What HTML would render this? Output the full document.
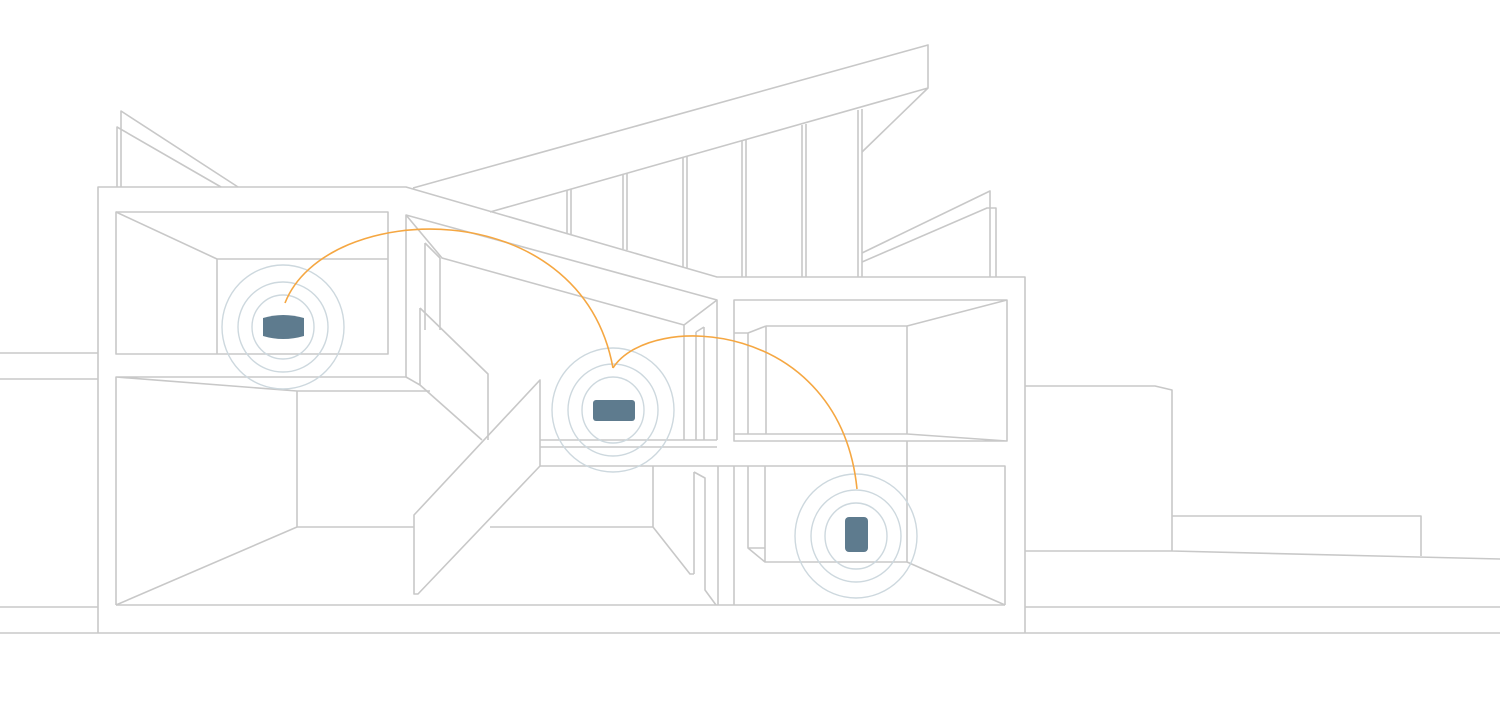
<!DOCTYPE html>
<html><head><style>html,body{margin:0;padding:0;background:#fff}svg{display:block}</style></head>
<body>
<svg width="1500" height="703" viewBox="0 0 1500 703" xmlns="http://www.w3.org/2000/svg">
<g fill="none" stroke="#c8c8c8" stroke-width="1.6" stroke-linejoin="round">
<path d="M0 607H98M1025 607H1500M0 633H1500M0 353H98M0 379H98"/>
<path d="M117 187V127L221 187M121 187V111L238 187"/>
<path d="M98 633V187H406L717 277H1025V633"/>
<path d="M413 188L928 45V88L862 152M490 212L928 88"/>
<path d="M567 190V233M571 189V234M623 175V249M627 173V250M683 157V267M687 156V268M742 141V277M746 140V277M802 125V277M806 124V277M858 110V277M862 109V277"/>
<path d="M862 253L990 191V277M862 262L987 208H996V277"/>
<rect x="116" y="212" width="272" height="142"/>
<path d="M116 212L217 259H388M217 259V354"/>
<path d="M116 605V377H406M116 377L297 391H430M297 391V527M297 527H414M116 605L297 527"/>
<path d="M406 377V215L717 300V440M406 215L442 258L684 325L717 300M684 325V440M696 332V440M704 327V440M696 332L704 327"/>
<path d="M425 243V330M440 258V330M425 243L440 258"/>
<path d="M420 308L488 374V440M420 308V385M406 377L420 385L482 440"/>
<path d="M414 515L540 380V466L418 594H414Z"/>
<path d="M540 440H717M540 447H717M540 466H1005V605M490 527H653V466M653 527L690 574H694M694 472V574M694 472L705 478V590L716 605M718 466V605M734 466V605"/>
<path d="M116 605H1005"/>
<path d="M734 300H1007V441H734ZM766 326H907V434M1007 300L907 326M766 326V434M748 333V434M734 333H748M734 434H907L1007 441M748 333L766 326"/>
<path d="M907 441V562M765 466V562H907L1005 605M748 466V548H765M748 548L765 562"/>
<path d="M1025 386H1155L1172 390V551H1025M1172 516H1421V556M1172 551L1500 559"/>
</g>
<g fill="none" stroke="#cdd8de" stroke-width="1.4">
<ellipse cx="283" cy="327" rx="61" ry="62"/><ellipse cx="283" cy="327" rx="45" ry="45"/><ellipse cx="283" cy="327" rx="31" ry="32"/>
<ellipse cx="613" cy="410" rx="61" ry="62"/><ellipse cx="613" cy="410" rx="45" ry="46"/><ellipse cx="613" cy="410" rx="31" ry="33"/>
<ellipse cx="856" cy="536" rx="61" ry="62"/><ellipse cx="856" cy="536" rx="45" ry="46"/><ellipse cx="856" cy="536" rx="31" ry="33"/>
</g>
<g fill="#5e7b8e">
<path d="M263 318Q283 312 304 318V336Q283 342 263 336Z"/>
<rect x="593" y="400" width="42" height="21" rx="3"/>
<rect x="845" y="517" width="23" height="35" rx="4"/>
</g>
<g fill="none" stroke="#f5a742" stroke-width="1.6">
<path d="M285 303C325 200 580 190 613 368"/>
<path d="M613 368C650 310 840 320 857 489"/>
</g>
</svg>
</body></html>
